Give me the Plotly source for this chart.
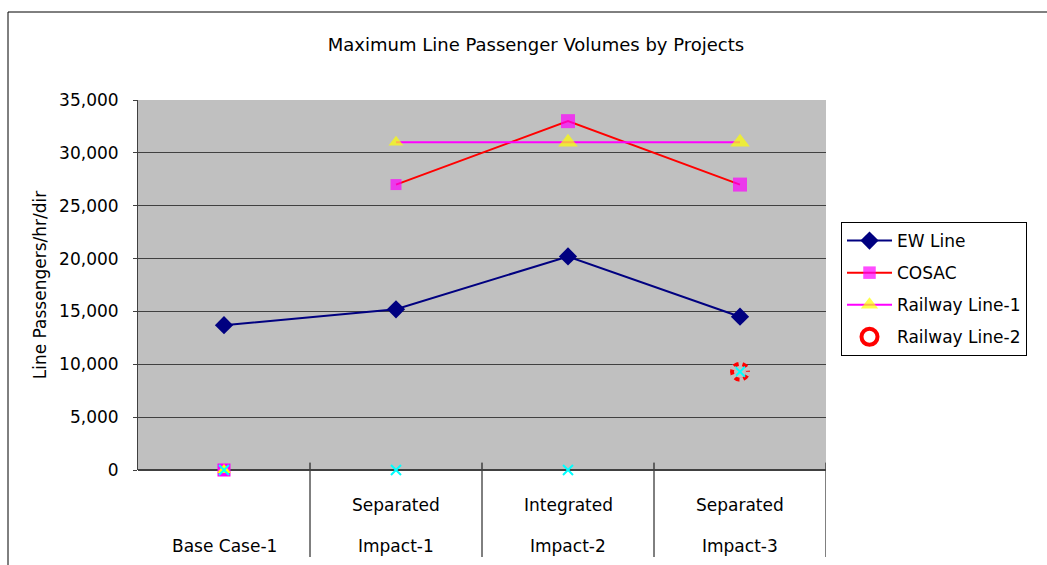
import plotly.graph_objects as go

# ---- data ----
categories_top = ["", "Separated", "Integrated", "Separated"]
categories_bottom = ["Base Case-1", "Impact-1", "Impact-2", "Impact-3"]
ew_line = [13700, 15200, 20200, 14500]
cosac = [0, 27000, 33000, 27000]
railway_line_1 = [0, 31000, 31000, 31000]
railway_line_2 = [0, 0, 0, 9300]
y_ticks = [0, 5000, 10000, 15000, 20000, 25000, 30000, 35000]

FONT = "DejaVu Sans"
FS = 17
x = list(range(len(categories_bottom)))


def line_part(vals):
    return [v if v > 0 else None for v in vals]


def zero_part(vals):
    return [v if v == 0 else None for v in vals]


NOLINE = dict(width=0)
fig = go.Figure()

# EW Line
fig.add_trace(go.Scatter(
    x=x, y=ew_line, name="EW Line", mode="lines+markers", legendgroup="a",
    line=dict(color="#000080", width=2), cliponaxis=False,
    marker=dict(symbol="diamond", size=14, color="#000080", line=NOLINE),
))
# COSAC
fig.add_trace(go.Scatter(
    x=x, y=line_part(cosac), name="COSAC", mode="lines+markers", legendgroup="b",
    line=dict(color="#FF0000", width=2), cliponaxis=False,
    marker=dict(symbol="square", size=[11, 11, 14, 14], color="#FF00FF", line=NOLINE),
))
fig.add_trace(go.Scatter(
    x=x, y=zero_part(cosac), mode="markers", showlegend=False, cliponaxis=False,
    marker=dict(symbol="square", size=13, color="#FF00FF", line=NOLINE),
))
# Railway Line-1
fig.add_trace(go.Scatter(
    x=x, y=line_part(railway_line_1), name="Railway Line-1", mode="lines+markers",
    legendgroup="c", line=dict(color="#FF00FF", width=2), cliponaxis=False,
    marker=dict(symbol="triangle-up", size=[13, 13, 17, 17], color="#FFFF00", line=NOLINE),
))
fig.add_trace(go.Scatter(
    x=x, y=zero_part(railway_line_1), mode="markers", showlegend=False, cliponaxis=False,
    marker=dict(symbol="triangle-up", size=12, color="#FFFF00", line=NOLINE),
))
# Railway Line-2
fig.add_trace(go.Scatter(
    x=x, y=line_part(railway_line_2), name="Railway Line-2", mode="markers",
    legendgroup="d", cliponaxis=False,
    marker=dict(symbol="circle-open", size=16, color="#FF0000",
                line=dict(color="#FF0000", width=4)),
))
fig.add_trace(go.Scatter(
    x=x, y=railway_line_2, mode="markers", showlegend=False, cliponaxis=False,
    marker=dict(symbol="x-thin-open", size=10, color="#00FFFF",
                line=dict(color="#00FFFF", width=2)),
))

shapes = []
# dashed look for the ring
for i, v in enumerate(railway_line_2):
    if v > 0:
        shapes.append(dict(
            type="circle", xref="x", yref="y", xsizemode="pixel", ysizemode="pixel",
            xanchor=x[i], yanchor=v, x0=-8, x1=8, y0=-8, y1=8,
            line=dict(color="#C0C0C0", width=5, dash="4px,5px"), layer="above",
        ))
# category dividers below axis
for i in range(1, len(categories_bottom) + 1):
    shapes.append(dict(
        type="line", xref="x", yref="paper", x0=i - 0.5, x1=i - 0.5,
        y0=0.02, y1=-87 / 370, line=dict(color="#000000", width=1), layer="below",
    ))
# outer chart border
shapes.append(dict(
    type="rect", xref="paper", yref="paper",
    x0=-130 / 688, x1=1.5, y0=-0.3, y1=(470 - 12) / 370,
    line=dict(color="#000000", width=1), fillcolor="rgba(0,0,0,0)", layer="below",
))

# two-level category labels
annotations = []
for i, (t, b) in enumerate(zip(categories_top, categories_bottom)):
    if t:
        annotations.append(dict(text=t, x=x[i], xref="x", y=-(505 - 470) / 370, yref="paper",
                                yanchor="middle", showarrow=False,
                                font=dict(family=FONT, size=FS)))
    annotations.append(dict(text=b, x=x[i], xref="x", y=-(546 - 470) / 370, yref="paper",
                            yanchor="middle", showarrow=False,
                            font=dict(family=FONT, size=FS)))

fig.update_layout(
    width=1047, height=565,
    margin=dict(l=138, r=221, t=100, b=95, autoexpand=False),
    paper_bgcolor="white", plot_bgcolor="#C0C0C0",
    font=dict(family=FONT, size=FS, color="#000000"),
    title=dict(text="Maximum Line Passenger Volumes by Projects",
               x=536 / 1047, xanchor="center", y=1 - 45 / 565, yanchor="middle",
               font=dict(family=FONT, size=18)),
    showlegend=True,
    legend=dict(x=(841 - 138) / 688, y=(470 - 222) / 370, xanchor="left", yanchor="top",
                bgcolor="white", bordercolor="#000000", borderwidth=1,
                font=dict(family=FONT, size=FS), tracegroupgap=7, itemwidth=45),
    shapes=shapes,
    annotations=annotations,
    xaxis=dict(range=[-0.5, 3.5], tickvals=x, showticklabels=False, automargin=False,
               showgrid=False, zeroline=False, showline=False, ticks=""),
    yaxis=dict(range=[0, 35000], tickvals=y_ticks, tickformat=",d", automargin=False,
               showgrid=True, gridcolor="#404040", gridwidth=1,
               zeroline=True, zerolinecolor="#404040", zerolinewidth=2,
               showline=True, linecolor="#404040", linewidth=1,
               ticks="outside", ticklen=4, tickcolor="#404040",
               ticklabelstandoff=11,
               tickfont=dict(family=FONT, size=FS),
               title=dict(text="Line Passengers/hr/dir", standoff=8,
                          font=dict(family=FONT, size=FS))),
)

fig.write_html("out.html")
